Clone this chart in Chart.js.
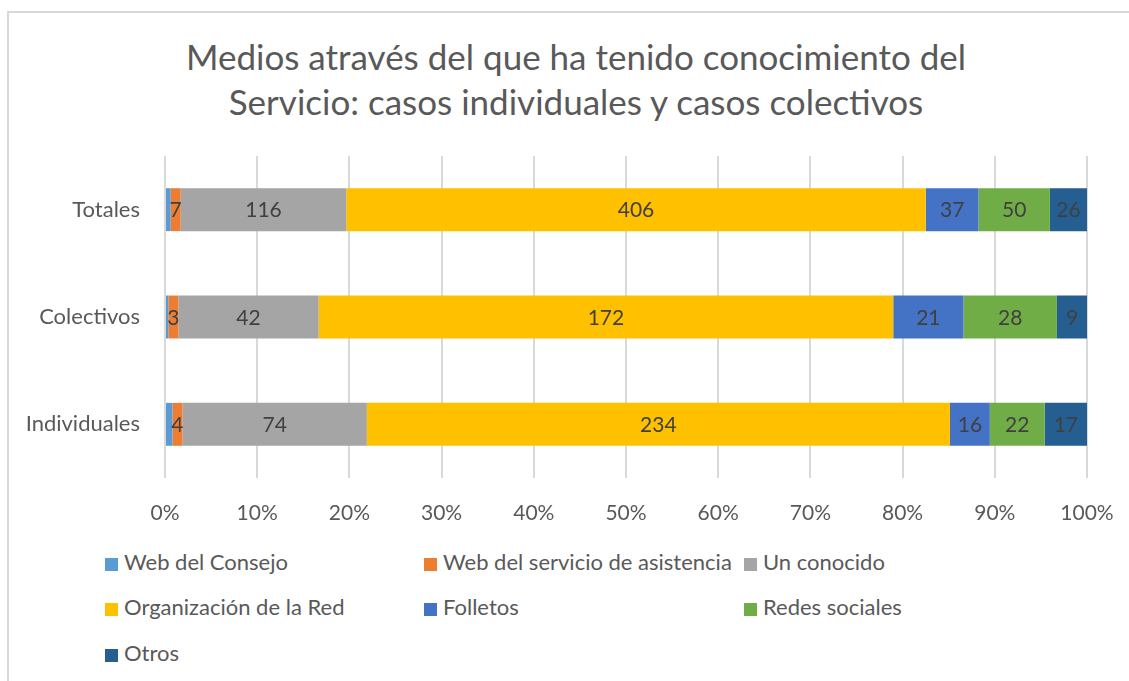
<!DOCTYPE html>
<html>
<head>
<meta charset="utf-8">
<script src="https://cdn.jsdelivr.net/npm/chart.js@4"></script>
<style>
	body { margin: 0; background: #fff; font-family: Lato, "Open Sans", sans-serif; }
	#frame { position: absolute; left: 7px; top: 11px; width: 1140px; height: 700px; border: 2px solid #d9d9d9; box-sizing: border-box; }
	#title { position: absolute; left: 76px; top: 34px; width: 1000px; text-align: center; font-size: 35px; line-height: 45px; color: #595959; }
	#wrap { position: absolute; left: 0; top: 0; width: 1129px; height: 540px; }
	#legend { position: absolute; left: 0; top: 540px; width: 1129px; height: 141px; }
	.item { position: absolute; font-size: 22px; color: #595959; white-space: nowrap; line-height: 24px; }
	.item span { display: inline-block; width: 13px; height: 13px; margin-right: 6px; vertical-align: -1px; }
</style>
</head>
<body>
<div id="frame"></div>
<div id="title">Medios através del que ha tenido conocimiento del<br>Servicio: casos individuales y casos colectivos</div>
<div id="wrap"><canvas id="myChart" width="1129" height="540"></canvas></div>
<div id="legend"></div>
<script>
	var categories = ['Totales', 'Colectivos', 'Individuales'];
	var seriesNames = ['Web del Consejo', 'Web del servicio de asistencia', 'Un conocido', 'Organización de la Red', 'Folletos', 'Redes sociales', 'Otros'];
	var webConsejo = [4, 1, 3];
	var webServicio = [7, 3, 4];
	var unConocido = [116, 42, 74];
	var organizacion = [406, 172, 234];
	var folletos = [37, 21, 16];
	var redesSociales = [50, 28, 22];
	var otros = [26, 9, 17];
	var tickLabels = ['0%', '10%', '20%', '30%', '40%', '50%', '60%', '70%', '80%', '90%', '100%'];
	var colors = ['#5B9BD5', '#ED7D31', '#A5A5A5', '#FFC000', '#4472C4', '#70AD47', '#255E91'];

	var series = [webConsejo, webServicio, unConocido, organizacion, folletos, redesSociales, otros];

	// totals per category, to turn counts into percentages (100% stacked)
	var totals = categories.map(function(c, i) {
		var s = 0;
		series.forEach(function(arr) { s += arr[i]; });
		return s;
	});

	var datasets = series.map(function(arr, k) {
		return {
			label: seriesNames[k],
			data: arr.map(function(v, i) { return v / totals[i] * 100; }),
			counts: arr,
			backgroundColor: colors[k],
			borderWidth: 0,
			barPercentage: 0.4,
			categoryPercentage: 1
		};
	});

	var font = 'Lato, "Open Sans", sans-serif';

	// draw the counts in the middle of each segment
	var valueLabels = {
		id: 'valueLabels',
		afterDatasetsDraw: function(chart) {
			var ctx = chart.ctx;
			ctx.save();
			ctx.font = '21px ' + font;
			ctx.fillStyle = '#404040';
			ctx.textAlign = 'center';
			ctx.textBaseline = 'middle';
			chart.data.datasets.forEach(function(ds, k) {
				if (k === 0) return; // too thin, Excel hides it
				chart.getDatasetMeta(k).data.forEach(function(bar, i) {
					ctx.fillText(String(ds.counts[i]), (bar.x + bar.base) / 2, bar.y + 1);
				});
			});
			ctx.restore();
		}
	};

	var ctx = document.getElementById('myChart').getContext('2d');
	var myChart = new Chart(ctx, {
		type: 'bar',
		data: { labels: categories, datasets: datasets },
		plugins: [valueLabels],
		options: {
			indexAxis: 'y',
			responsive: false,
			animation: false,
			layout: { padding: { top: 156, right: 42, bottom: 12, left: 0 } },
			plugins: {
				legend: { display: false },
				tooltip: { enabled: false },
				title: { display: false }
			},
			scales: {
				x: {
					stacked: true,
					min: 0,
					max: 100,
					afterFit: function(scale) {
						scale.height = 50;
						scale.paddingLeft = 0;
						scale.paddingRight = 0;
					},
					grid: { color: '#d9d9d9', lineWidth: 2, drawTicks: false },
					border: { display: false },
					ticks: {
						stepSize: 10,
						padding: 23,
						color: '#595959',
						font: { family: font, size: 21 },
						callback: function(v, i) { return tickLabels[i]; }
					}
				},
				y: {
					stacked: true,
					afterFit: function(scale) { scale.width = 165; },
					grid: { display: false },
					border: { display: false },
					ticks: {
						padding: 17,
						color: '#595959',
						font: { family: font, size: 22 }
					}
				}
			}
		}
	});

	// legend laid out in Excel's three columns
	var legendPos = [[105, 10], [424, 10], [744, 10], [105, 55], [424, 55], [744, 55], [105, 101]];
	var legend = document.getElementById('legend');
	seriesNames.forEach(function(name, k) {
		var div = document.createElement('div');
		div.className = 'item';
		div.style.left = legendPos[k][0] + 'px';
		div.style.top = legendPos[k][1] + 'px';
		div.innerHTML = '<span style="background:' + colors[k] + '"></span>' + name;
		legend.appendChild(div);
	});
</script>
</body>
</html>
